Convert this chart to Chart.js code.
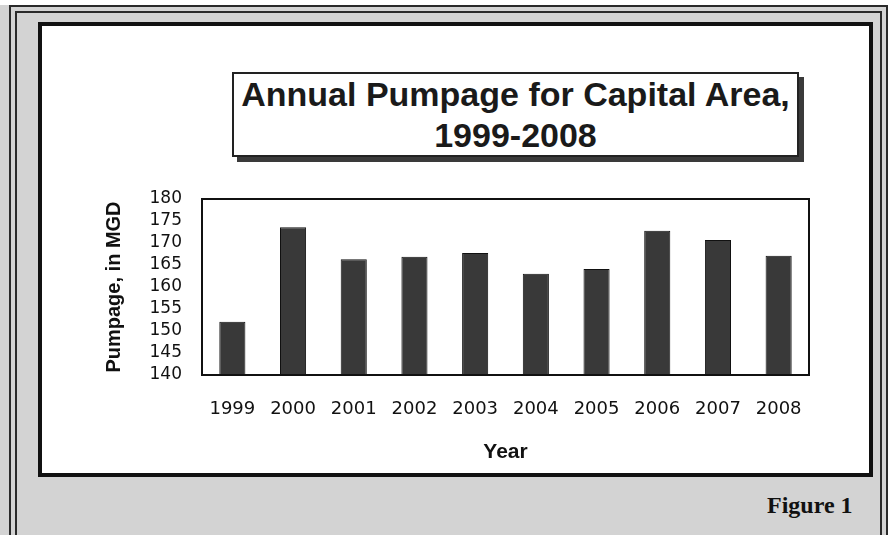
<!DOCTYPE html>
<html>
<head>
<meta charset="utf-8">
<script src="https://cdn.jsdelivr.net/npm/chart.js@4.4.1/dist/chart.umd.min.js"></script>
<style>
    html, body { margin: 0; padding: 0; background: #fff; }
    #page { position: relative; width: 888px; height: 535px; overflow: hidden; background: #fff; }
    #gray { position: absolute; left: 0; top: 5px; width: 888px; height: 530px; background: #d3d3d3; }
    .rule { position: absolute; border: 2px solid #2a2a2a; border-bottom: none; }
    #rule1 { left: 9px; top: 5px; width: 875px; height: 540px; }
    #rule2 { left: 15px; top: 11px; width: 863px; height: 540px; }
    #panel { position: absolute; left: 38px; top: 22px; width: 835px; height: 455px; box-sizing: border-box;
             border: 4px solid #111; background: #fff; }
    #titleBox { position: absolute; left: 232px; top: 72px; width: 567px; height: 85px; box-sizing: border-box;
                border: 2px solid #222; background: #fff; box-shadow: 5px 5px 0 #3a3a3a;
                font-family: 'Liberation Sans', Arial, sans-serif; font-weight: bold; font-size: 34px;
                color: #1a1a1a; text-align: center; line-height: 41px; }
    #figure { position: absolute; left: 767px; top: 492px; font-family: 'Liberation Serif', 'Times New Roman', serif;
              font-weight: bold; font-size: 24px; color: #111; }
    #chart { position: absolute; left: 0; top: 0; }
</style>
</head>
<body>
<div id="page">
    <div id="gray"></div>
    <div class="rule" id="rule1"></div>
    <div class="rule" id="rule2"></div>
    <div id="panel"></div>
    <div id="titleBox">Annual Pumpage for Capital Area,<br>1999-2008</div>
    <div id="figure">Figure 1</div>
    <canvas id="chart" width="888" height="535"></canvas>
</div>
<script>
// data
let years = ['1999', '2000', '2001', '2002', '2003', '2004', '2005', '2006', '2007', '2008'];
let pumpage = [152.1, 173.6, 166.3, 166.9, 167.7, 163.0, 164.1, 172.8, 170.7, 167.1];
let yMin = 140;
let yMax = 180;
let yStep = 5;

// box round the plot area
let plotBox = {
    id: 'plotBox',
    afterDatasetsDraw: function (chart) {
        let a = chart.chartArea;
        let c = chart.ctx;
        c.save();
        c.strokeStyle = '#111';
        c.lineWidth = 2;
        c.strokeRect(a.left, a.top, a.right - a.left, a.bottom - a.top);
        c.restore();
    }
};

let ctx = document.getElementById('chart').getContext('2d');

let myChart = new Chart(ctx, {
    type: 'bar',
    data: {
        labels: years,
        datasets: [{
            data: pumpage,
            backgroundColor: '#393939',
            borderColor: '#111',
            borderWidth: 1,
            barPercentage: 0.43,
            categoryPercentage: 1.0
        }]
    },
    options: {
        responsive: false,
        animation: false,
        layout: {
            padding: { left: 100, top: 199, right: 79, bottom: 70 }
        },
        plugins: {
            legend: { display: false },
            tooltip: { enabled: false }
        },
        scales: {
            x: {
                grid: { display: false, drawTicks: false },
                border: { display: false },
                ticks: {
                    color: '#111',
                    padding: 24,
                    maxRotation: 0,
                    autoSkip: false,
                    font: { family: 'DejaVu Sans', size: 18 }
                },
                title: {
                    display: true,
                    text: 'Year',
                    color: '#111',
                    padding: 0,
                    font: { family: 'Liberation Sans', size: 21, weight: 'bold' }
                },
                afterFit: function (scale) {
                    scale.height = 90;
                }
            },
            y: {
                min: yMin,
                max: yMax,
                grid: { display: false, drawTicks: false },
                border: { display: false },
                ticks: {
                    stepSize: yStep,
                    autoSkip: false,
                    color: '#111',
                    padding: 20,
                    font: { family: 'DejaVu Sans', size: 17 }
                },
                title: {
                    display: true,
                    text: 'Pumpage, in MGD',
                    color: '#111',
                    padding: { top: 2, bottom: 0 },
                    font: { family: 'Liberation Sans', size: 20, weight: 'bold' }
                },
                afterFit: function (scale) {
                    scale.width = 102;
                }
            }
        }
    },
    plugins: [plotBox]
});
</script>
</body>
</html>
